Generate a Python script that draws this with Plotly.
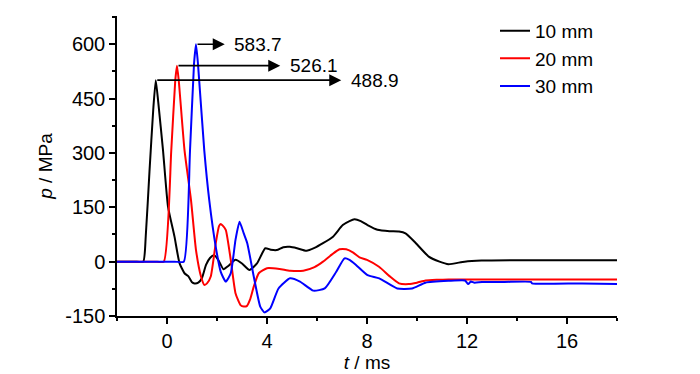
import plotly.graph_objects as go

# ---- data ----
t_10 = [-2, -1.3, -0.95, -0.85, -0.7, -0.55, -0.45, -0.35, -0.16, 0.04, 0.3, 0.5, 0.7, 0.85, 1.0, 1.1, 1.25,
        1.4, 1.56, 1.72, 1.88, 2.05, 2.26, 2.45, 2.74, 3.0, 3.3, 3.6, 3.93, 4.15, 4.39, 4.65, 4.92,
        5.2, 5.58, 5.9, 6.24, 6.64, 7.03, 7.3, 7.5, 7.75, 8.02, 8.42, 8.9, 9.28, 9.54, 9.9, 10.47,
        10.9, 11.26, 11.9, 12.58, 14, 16, 18]
p_10 = [0, 0, 0, 70, 250, 420, 501, 440, 308, 152, 69, -4, -32, -40, -57, -60, -58,
        -45, -9, 10, 18, 5, -21, -12, 5, -5, -23, -5, 37, 33, 32, 40, 41,
        37, 30, 38, 51, 69, 101, 112, 117, 112, 101, 88, 84, 83, 78, 55, 14,
        0, -7, 0, 3, 4, 4, 4]

t_20 = [-2, -0.5, -0.13, 0.17, 0.33, 0.4, 0.47, 0.7, 0.96, 1.16, 1.36, 1.49, 1.6, 1.75, 1.95, 2.08, 2.15,
        2.22, 2.35, 2.55, 2.74, 2.94, 3.07, 3.2, 3.32, 3.47, 3.67, 4.0, 4.5, 4.92, 5.45, 5.9, 6.24,
        6.6, 6.9, 7.17, 7.45, 7.7, 8.0, 8.48, 8.9, 9.28, 9.67, 10.0, 10.34, 10.8, 11.26, 14, 18]
p_20 = [0, 0, 0, 306, 500, 541, 500, 308, 170, 32, -41, -64, -60, -41, 51, 98, 104,
        100, 88, 5, -87, -120, -124, -122, -105, -69, -32, -18, -20, -25, -25, -15, 0,
        20, 34, 34, 25, 12, 5, -14, -40, -60, -62, -58, -52, -50, -49, -49, -49]

t_30 = [-2, 0.3, 0.67, 0.92, 1.08, 1.16, 1.24, 1.49, 1.69, 1.95, 2.15, 2.35, 2.55, 2.74, 2.9, 3.07, 3.21,
        3.47, 3.73, 3.9, 4.13, 4.46, 4.92, 5.32, 5.85, 6.31, 6.77, 7.1, 7.3, 7.56, 8.02, 8.49, 9.21,
        9.8, 10.34, 11.26, 11.92, 12.05, 12.15, 12.3, 12.6, 13.5, 14.56, 14.6, 16.6, 18]
p_30 = [0, 0, 0, 306, 545, 600, 545, 308, 170, 41, -28, -55, -32, 60, 110, 78, 51,
        -41, -124, -140, -129, -74, -46, -55, -80, -74, -28, 9, 5, -9, -37, -46, -74,
        -74, -58, -53, -52, -62, -55, -58, -56, -56, -56, -60, -60, -62]

series_names = ["10 mm", "20 mm", "30 mm"]
series_colors = ["#000000", "#ff0000", "#0000ff"]

# peak markers: (peak time, peak drawn height, arrow end time, label)
peak_t = [-0.45, 0.40, 1.16]
peak_p = [501, 541, 600]
arrow_end_t = [6.97, 4.53, 2.31]
peak_labels = ["488.9", "526.1", "583.7"]

x_ticks = [0, 4, 8, 12, 16]
y_ticks = [-150, 0, 150, 300, 450, 600]
y_tick_text = ["-150", "0", "150", "300", "450", "600"]

FONT = "Liberation Sans, Arial, sans-serif"
FS_TICK = 20
FS = 19

fig = go.Figure()
for i, (tt, pp) in enumerate([(t_10, p_10), (t_20, p_20), (t_30, p_30)]):
    fig.add_trace(go.Scatter(x=tt, y=pp, mode="lines", name=series_names[i],
                             legendgroup=series_names[i],
                             line=dict(color=series_colors[i], width=2,
                                       shape="spline", smoothing=0.5)))

for i in range(3):
    fig.add_annotation(x=arrow_end_t[i], y=peak_p[i], ax=peak_t[i], ay=peak_p[i],
                       xref="x", yref="y", axref="x", ayref="y", text="",
                       showarrow=True, arrowhead=2, arrowsize=1.5, arrowwidth=1.6,
                       arrowcolor="black", standoff=0, startstandoff=0)
    fig.add_annotation(x=arrow_end_t[i] + 0.3, y=peak_p[i], xref="x", yref="y",
                       text=peak_labels[i], showarrow=False, xanchor="left", yanchor="middle",
                       font=dict(size=FS, color="black", family=FONT))

axis_common = dict(showline=True, linecolor="black", linewidth=1.5, ticks="outside",
                   ticklen=6, tickwidth=1.5, tickcolor="black", showgrid=False,
                   zeroline=False, mirror=False, automargin=False,
                   tickfont=dict(size=FS_TICK, color="black", family=FONT))

fig.update_xaxes(range=[-2, 18], tickvals=x_ticks,
                 minor=dict(ticks="outside", ticklen=3, tickwidth=1.5, tickcolor="black", dtick=2),
                 title=dict(text="<i>t</i> / ms", font=dict(size=FS, color="black", family=FONT),
                            standoff=0),
                 **axis_common)
fig.update_yaxes(range=[-150, 678], tickvals=y_ticks, ticktext=y_tick_text,
                 minor=dict(ticks="outside", ticklen=3, tickwidth=1.5, tickcolor="black", dtick=75),
                 title=dict(text="<i>p</i> / MPa", font=dict(size=FS, color="black", family=FONT),
                            standoff=8),
                 **axis_common)

# page body has an 8 px margin, so the figure is sized to fit the 700x374 window
fig.update_layout(
    width=692, height=366,
    margin=dict(l=109, r=83, t=8, b=58, autoexpand=False),
    paper_bgcolor="white", plot_bgcolor="white",
    font=dict(family=FONT, color="black"),
    showlegend=True,
    legend=dict(x=0.756, y=1.014, xanchor="left", yanchor="top", bgcolor="rgba(0,0,0,0)",
                font=dict(size=FS, color="black", family=FONT), tracegroupgap=0,
                borderwidth=0),
)

fig.write_html("out.html")
